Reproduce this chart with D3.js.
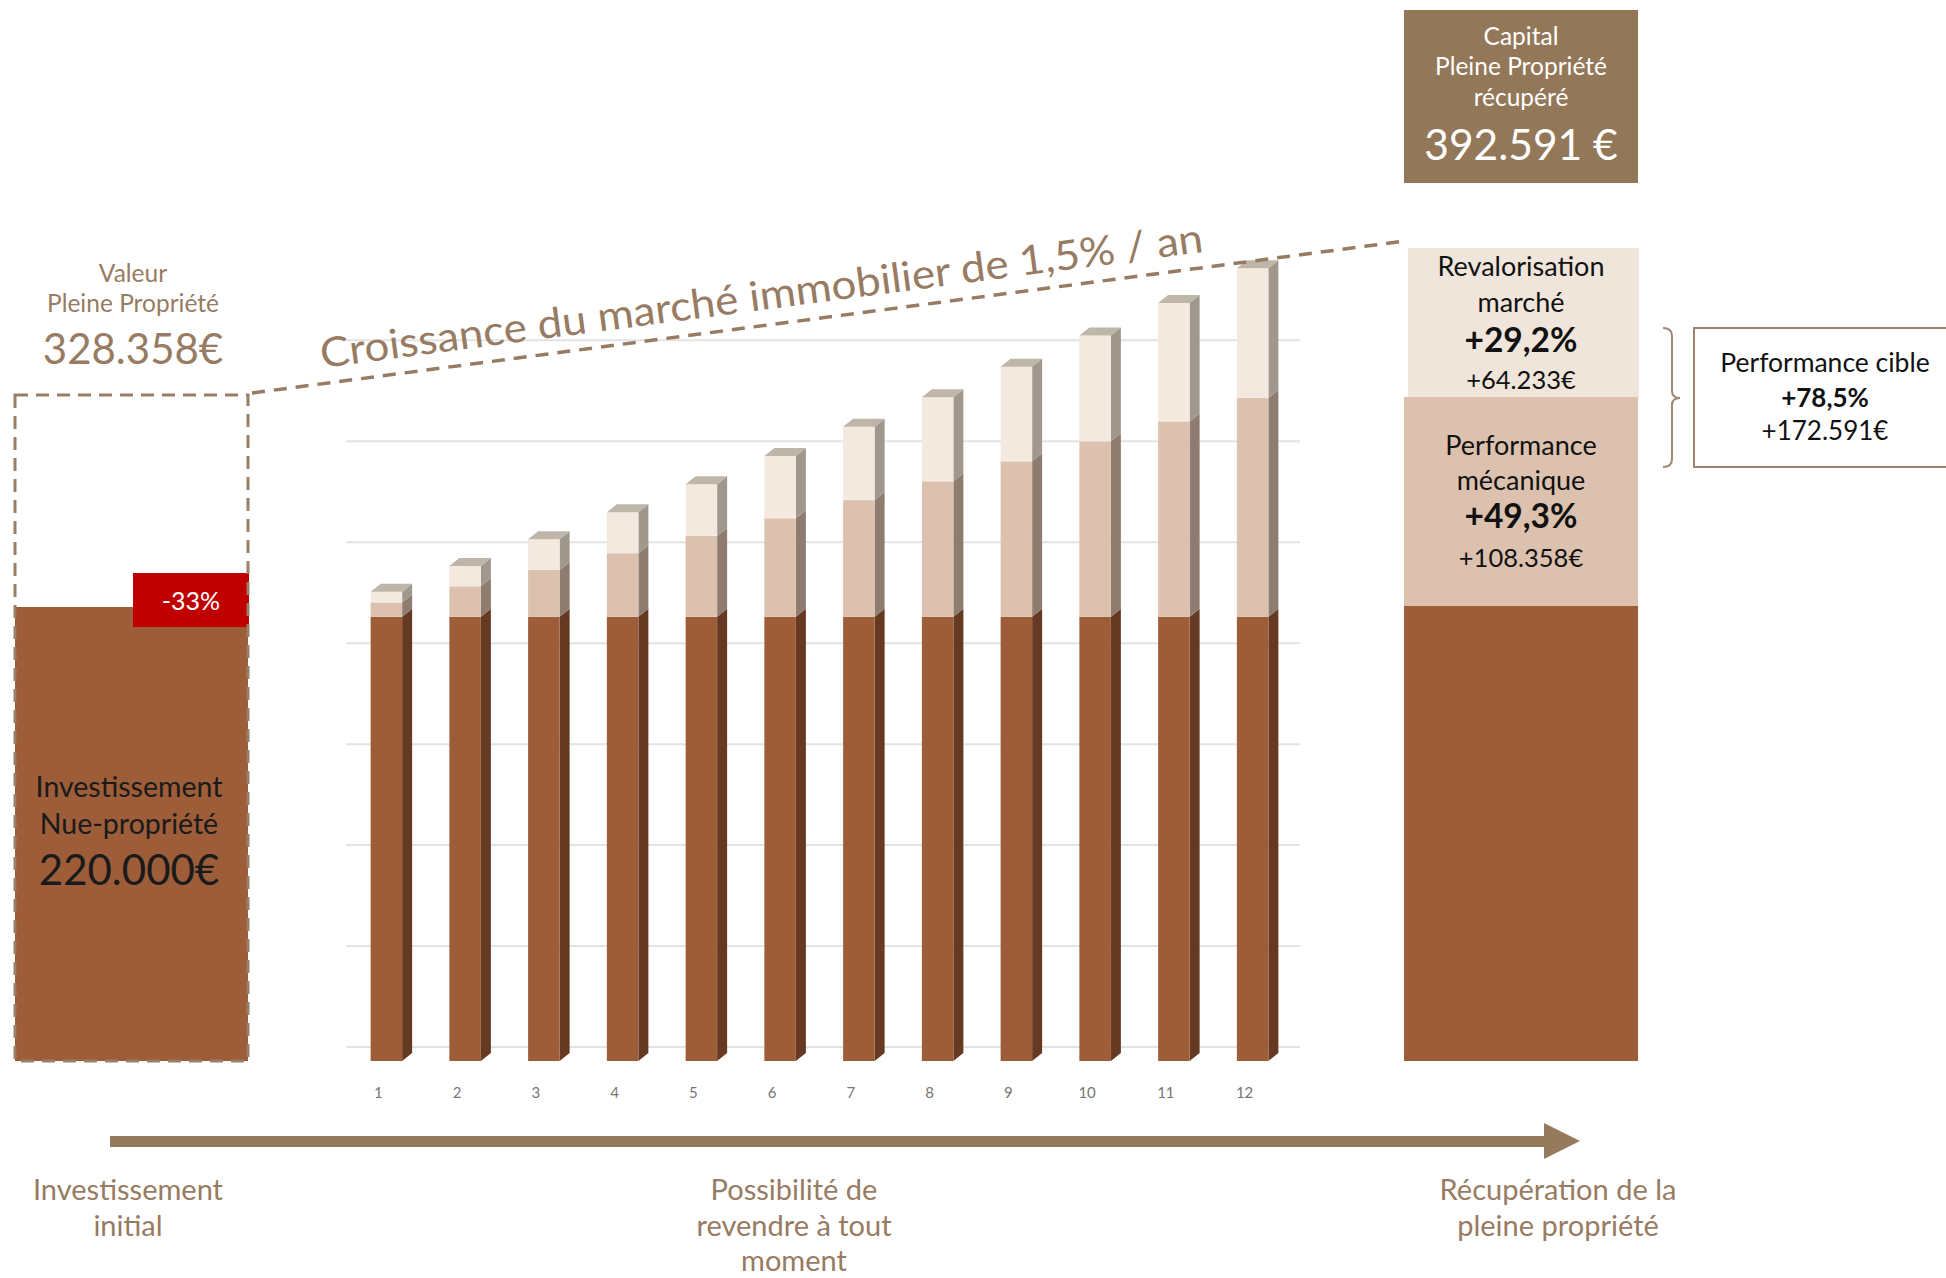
<!DOCTYPE html>
<html>
<head>
<meta charset="utf-8">
<script src="https://cdn.jsdelivr.net/npm/d3@7"></script>
<style>
  body { margin: 0; background: #fff; }
  svg { display: block; font-family: Lato, "Open Sans", sans-serif; }
</style>
</head>
<body>
<div id="chart"></div>
<script>
// Values
const years = ["1", "2", "3", "4", "5", "6", "7", "8", "9", "10", "11", "12"];
const investment = [220000, 220000, 220000, 220000, 220000, 220000, 220000, 220000, 220000, 220000, 220000, 220000];
const mechanical = [7100, 15100, 23200, 31500, 40000, 48800, 57800, 67100, 77000, 86900, 96800, 108358];
const market = [5300, 10100, 15200, 20300, 25600, 30900, 36300, 41600, 46800, 52400, 58600, 64233];
const gridTicks = [0, 50000, 100000, 150000, 200000, 250000, 300000, 350000];

const seriesKeys = ["investment", "mechanical", "market"];
const frontColors = { investment: "#9c5d38", mechanical: "#dcc1ae", market: "#f3e9de" };
const sideColors = { investment: "#663a22", mechanical: "#8d7c6f", market: "#a0978d" };
const topColor = "#bfb6aa";
const brownText = "#977b62";

const width = 1946, height = 1278;
const depth = { dx: 10, dy: -8 };   // fake 3D offset of the columns
const wallOffset = 14;              // gridlines sit on the back wall

const svg = d3.select("#chart")
  .append("svg")
  .attr("width", width)
  .attr("height", height);

// table for the stack
const table = years.map((y, i) => ({
  year: y,
  investment: investment[i],
  mechanical: mechanical[i],
  market: market[i]
}));
const stacked = d3.stack().keys(seriesKeys)(table);

const x = d3.scaleBand()
  .domain(years)
  .range([347, 1292])
  .paddingInner(0.6)
  .paddingOuter(0.3);

const y = d3.scaleLinear()
  .domain([0, 350000])
  .range([1061, 1061 - 350000 * 0.002019]);

// gridlines on the back wall
svg.selectAll("line.grid")
  .data(gridTicks)
  .enter()
  .append("line")
  .attr("class", "grid")
  .attr("x1", 346)
  .attr("x2", 1300)
  .attr("y1", d => y(d) - wallOffset)
  .attr("y2", d => y(d) - wallOffset)
  .style("stroke", "#e3e3e3")
  .style("stroke-width", 2);

// columns: side face, front face, then the top
const bw = x.bandwidth();
const layers = svg.selectAll("g.layer")
  .data(stacked)
  .enter().append("g")
  .attr("class", "layer");

layers.selectAll("path.side")
  .data(d => d.map(p => ({ key: d.key, p: p })))
  .enter().append("path")
  .attr("class", "side")
  .attr("d", d => {
    const xr = x(d.p.data.year) + bw;
    const y0 = y(d.p[0]), y1 = y(d.p[1]);
    return `M${xr},${y1}L${xr + depth.dx},${y1 + depth.dy}L${xr + depth.dx},${y0 + depth.dy}L${xr},${y0}Z`;
  })
  .attr("fill", d => sideColors[d.key]);

layers.selectAll("rect.front")
  .data(d => d.map(p => ({ key: d.key, p: p })))
  .enter().append("rect")
  .attr("class", "front")
  .attr("x", d => x(d.p.data.year))
  .attr("y", d => y(d.p[1]))
  .attr("width", bw)
  .attr("height", d => y(d.p[0]) - y(d.p[1]))
  .attr("fill", d => frontColors[d.key]);

svg.selectAll("path.top")
  .data(stacked[stacked.length - 1])
  .enter().append("path")
  .attr("class", "top")
  .attr("d", d => {
    const xl = x(d.data.year), yt = y(d[1]);
    return `M${xl},${yt}L${xl + depth.dx},${yt + depth.dy}L${xl + bw + depth.dx},${yt + depth.dy}L${xl + bw},${yt}Z`;
  })
  .attr("fill", topColor);

// category axis
const xAxis = d3.axisBottom(x).tickSize(0).tickPadding(0);
svg.append("g")
  .attr("transform", "translate(-8,1087)")
  .call(xAxis)
  .call(g => g.select(".domain").remove())
  .selectAll("text")
  .style("font-family", "Lato, sans-serif")
  .style("font-size", "15px")
  .style("fill", "#767676");

// ---------- left panel ----------
svg.append("rect")
  .attr("x", 15).attr("y", 607)
  .attr("width", 233).attr("height", 454)
  .attr("fill", "#9c5d38");

svg.append("rect")
  .attr("x", 133).attr("y", 573)
  .attr("width", 116).attr("height", 54)
  .attr("fill", "#c00000");

svg.append("rect")
  .attr("x", 15).attr("y", 395)
  .attr("width", 233).attr("height", 666)
  .attr("fill", "none")
  .style("stroke", "#9a7f67")
  .style("stroke-width", 3)
  .style("stroke-dasharray", "13 8");

svg.append("text")
  .attr("x", 191).attr("y", 610)
  .attr("text-anchor", "middle")
  .style("fill", "#fff")
  .style("font-size", "25px")
  .text("-33%");

const leftTop = [
  { t: "Valeur", y: 282, size: 24.5 },
  { t: "Pleine Propriété", y: 312, size: 24.5 },
  { t: "328.358€", y: 364, size: 42 }
];
svg.selectAll("text.lefttop")
  .data(leftTop)
  .enter().append("text")
  .attr("class", "lefttop")
  .attr("x", 133)
  .attr("y", d => d.y)
  .attr("text-anchor", "middle")
  .style("font-size", d => d.size + "px")
  .style("fill", brownText)
  .text(d => d.t);

const investLines = [
  { t: "Investissement", dy: 0, size: 28.5 },
  { t: "Nue-propriété", dy: 37, size: 28.5 },
  { t: "220.000€", dy: 88, size: 42 }
];
[129, 1521].forEach(cx => {
  svg.append("g")
    .selectAll("text")
    .data(investLines)
    .enter().append("text")
    .attr("x", cx)
    .attr("y", d => 797 + d.dy)
    .attr("text-anchor", "middle")
    .style("font-size", d => d.size + "px")
    .style("fill", "#1a1a1a")
    .text(d => d.t);
});

// ---------- trend line + rotated title ----------
svg.append("line")
  .attr("x1", 252).attr("y1", 393)
  .attr("x2", 1405).attr("y2", 241)
  .style("stroke", "#977b62")
  .style("stroke-width", 3.5)
  .style("stroke-dasharray", "13 9");

const angle = Math.atan2(241 - 393, 1405 - 252) * 180 / Math.PI;
svg.append("text")
  .attr("transform", `translate(322,368) rotate(${angle})`)
  .attr("textLength", 890)
  .attr("lengthAdjust", "spacingAndGlyphs")
  .style("font-size", "41px")
  .style("fill", brownText)
  .text("Croissance du marché immobilier de 1,5% / an");

// ---------- right column ----------
svg.append("rect")
  .attr("x", 1404).attr("y", 10).attr("width", 234).attr("height", 173)
  .attr("fill", "#937759");
const capLines = [
  { t: "Capital", y: 45, size: 24.5 },
  { t: "Pleine Propriété", y: 75, size: 24.5 },
  { t: "récupéré", y: 106, size: 24.5 },
  { t: "392.591 €", y: 160, size: 42.5 }
];
svg.selectAll("text.cap")
  .data(capLines)
  .enter().append("text")
  .attr("class", "cap")
  .attr("x", 1521).attr("y", d => d.y)
  .attr("text-anchor", "middle")
  .style("font-size", d => d.size + "px")
  .style("fill", "#fff")
  .text(d => d.t);

svg.append("rect")
  .attr("x", 1408).attr("y", 248).attr("width", 231).attr("height", 149)
  .attr("fill", "#f0e5da");
svg.append("rect")
  .attr("x", 1404).attr("y", 397).attr("width", 234).attr("height", 209)
  .attr("fill", "#dcc1ae");
svg.append("rect")
  .attr("x", 1404).attr("y", 606).attr("width", 234).attr("height", 455)
  .attr("fill", "#9c5d38");

const boxLines = [
  { t: "Revalorisation", y: 276, size: 27, w: "normal" },
  { t: "marché", y: 312, size: 27, w: "normal" },
  { t: "+29,2%", y: 352, size: 33.5, w: "bold" },
  { t: "+64.233€", y: 389, size: 25.5, w: "normal" },
  { t: "Performance", y: 455, size: 27, w: "normal" },
  { t: "mécanique", y: 490, size: 27, w: "normal" },
  { t: "+49,3%", y: 528, size: 33.5, w: "bold" },
  { t: "+108.358€", y: 567, size: 25.5, w: "normal" }
];
svg.selectAll("text.box")
  .data(boxLines)
  .enter().append("text")
  .attr("class", "box")
  .attr("x", 1521).attr("y", d => d.y)
  .attr("text-anchor", "middle")
  .style("font-size", d => d.size + "px")
  .style("font-weight", d => d.w)
  .style("fill", "#111")
  .text(d => d.t);

// bracket + target box
svg.append("path")
  .attr("d", "M1663,328 Q1672,328 1672,336 L1672,391 Q1672,398 1680,398 Q1672,398 1672,405 L1672,459 Q1672,467 1663,467")
  .attr("fill", "none")
  .style("stroke", "#a08a74")
  .style("stroke-width", 2);

svg.append("rect")
  .attr("x", 1694).attr("y", 328).attr("width", 270).attr("height", 139)
  .attr("fill", "#fff")
  .style("stroke", "#a0826a")
  .style("stroke-width", 2);

const targetLines = [
  { t: "Performance cible", y: 372, size: 26.5, w: "normal" },
  { t: "+78,5%", y: 407, size: 26, w: "bold" },
  { t: "+172.591€", y: 440, size: 26, w: "normal" }
];
svg.selectAll("text.target")
  .data(targetLines)
  .enter().append("text")
  .attr("class", "target")
  .attr("x", 1825).attr("y", d => d.y)
  .attr("text-anchor", "middle")
  .style("font-size", d => d.size + "px")
  .style("font-weight", d => d.w)
  .style("fill", "#111")
  .text(d => d.t);

// ---------- time arrow ----------
svg.append("path")
  .attr("d", "M110,1136 L1544,1136 L1544,1123 L1580,1141 L1544,1159 L1544,1147 L110,1147 Z")
  .attr("fill", "#957a5e");

const bottomLabels = [
  { x: 128, lines: ["Investissement", "initial"] },
  { x: 794, lines: ["Possibilité de", "revendre à tout", "moment"] },
  { x: 1558, lines: ["Récupération de la", "pleine propriété"] }
];
bottomLabels.forEach(b => {
  svg.append("g")
    .selectAll("text")
    .data(b.lines)
    .enter().append("text")
    .attr("x", b.x)
    .attr("y", (d, i) => 1200 + i * 35.5)
    .attr("text-anchor", "middle")
    .style("font-size", "29px")
    .style("fill", brownText)
    .text(d => d);
});
</script>
</body>
</html>
